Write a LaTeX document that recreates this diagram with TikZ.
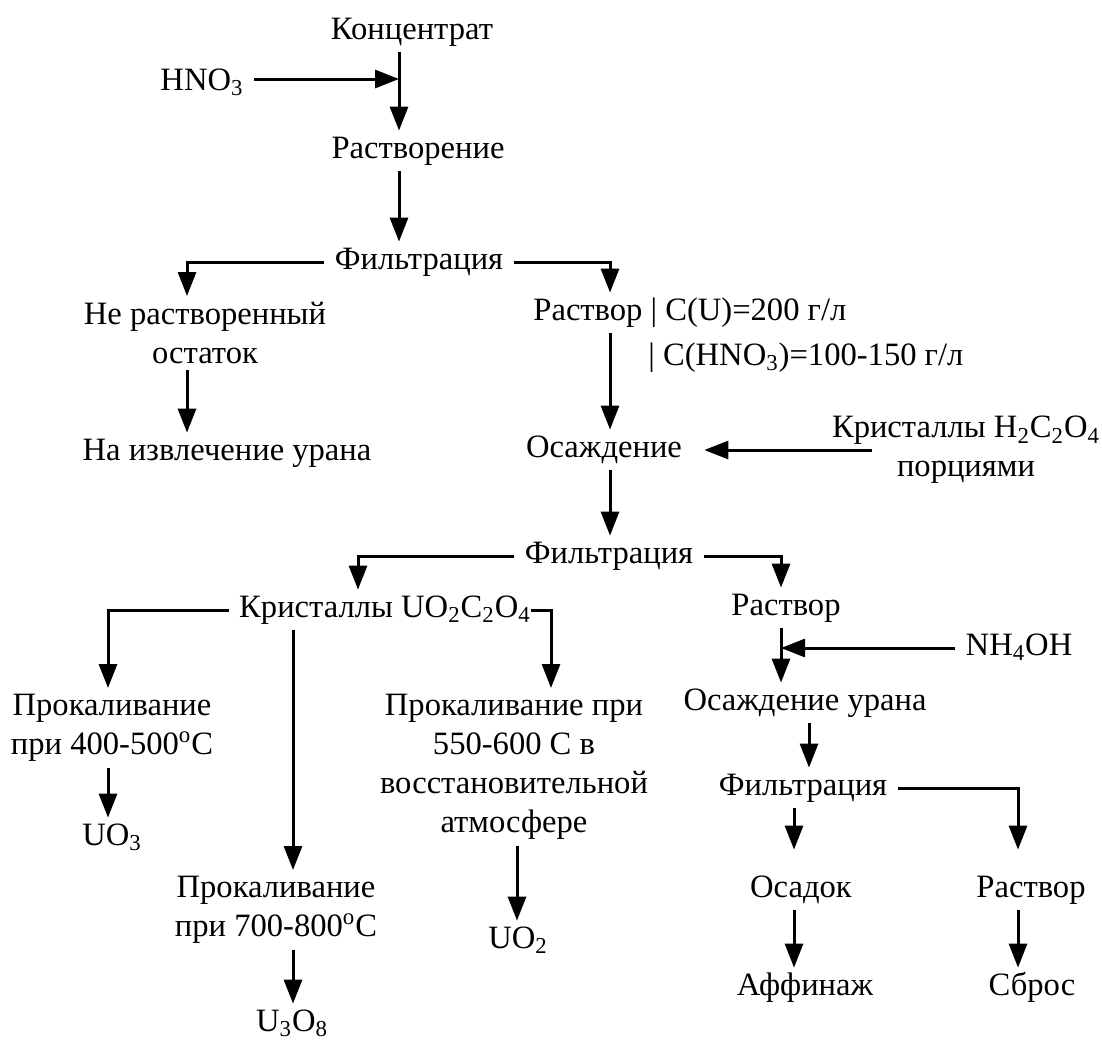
\documentclass[tikz,border=0pt]{standalone}
\usepackage{fontspec}
\setmainfont{Liberation Serif}
\usetikzlibrary{arrows.meta}

\begin{document}
\begin{tikzpicture}[x=0.5pt, y=-0.5pt,
    font=\fontsize{16.3}{19.5}\selectfont,
    lbl/.style={anchor=base, inner ysep=3pt, inner xsep=5pt, text height=10.5pt, text depth=3.5pt},
    lbls/.style={anchor=north, inner ysep=3pt, inner xsep=5pt, align=center},
    arr/.style={-{Triangle[length=12pt, width=9pt]}, line width=1.5pt}
  ]
  \useasboundingbox (0,0) rectangle (1102,1045);

  % upper part
  \node[lbl] (konc) at (412,39) {Концентрат};
  \node[lbl] (hno) at (202,90) {HNO\textsubscript{3}};
  \node[lbl] (rastv) at (418,158) {Растворение};
  \node[lbl] (filt1) at (419,269) {Фильтрация};
  \node[lbls] (ostat) at (205,296) {Не растворенный\\остаток};
  \node[lbl] (izvl) at (227,460) {На извлечение урана};
  \node[lbl, anchor=base west] (rasU) at (523,320) {Раствор | C(U)=200 г/л};
  \node[lbl, anchor=base west] (rasN) at (638,365) {| C(HNO\textsubscript{3})=100-150 г/л};
  \node[lbl] (osazh) at (604,457) {Осаждение};
  \node[lbls] (krH) at (966,410) {Кристаллы H\textsubscript{2}C\textsubscript{2}O\textsubscript{4}\\порциями};
  \node[lbl] (filt2) at (609,563) {Фильтрация};

  % lower part
  \node[lbl] (kruo) at (385,617) {Кристаллы UO\textsubscript{2}C\textsubscript{2}O\textsubscript{4}};
  \node[lbl] (rasR) at (786,615) {Раствор};
  \node[lbl] (nh) at (1019,655) {NH\textsubscript{4}OH};
  \node[lbl] (osU) at (805,710) {Осаждение урана};
  \node[lbls] (pr1) at (112,688) {Прокаливание\\при 400-500\textsuperscript{o}C};
  \node[lbls] (pr2) at (276,870) {Прокаливание\\при 700-800\textsuperscript{o}C};
  \node[lbls] (pr3) at (514,688) {Прокаливание при\\550-600 C в\\восстановительной\\атмосфере};
  \node[lbl] (uo3) at (112,845) {UO\textsubscript{3}};
  \node[lbl] (u3o8) at (292,1031) {U\textsubscript{3}O\textsubscript{8}};
  \node[lbl] (uo2) at (518,948) {UO\textsubscript{2}};
  \node[lbl] (filt3) at (803,795) {Фильтрация};
  \node[lbl] (osad) at (801,897) {Осадок};
  \node[lbl] (rasB) at (1031,897) {Раствор};
  \node[lbl] (aff) at (805,995) {Аффинаж};
  \node[lbl] (sbros) at (1032,995) {Сброс};

  \coordinate (v1) at ([xshift=-6.5pt]konc.south);
  \coordinate (v3) at ([xshift=3pt]osazh.north);
  \coordinate (v2) at ([xshift=-2.5pt]rasR.south);
  \coordinate (v5) at ([xshift=8.5pt]pr2.north);
  \coordinate (v4) at ([xshift=-3.5pt]osad.north);

  \draw[arr] (v1) -- (v1 |- rastv.north);
  \draw[arr] ([yshift=2pt]hno.east) -- ([yshift=2pt]hno.east -| v1);
  \draw[arr] (rastv.south -| v1) -- (filt1.north -| v1);
  \draw[arr] (filt1.west) -| ([xshift=-9pt]ostat.north);
  \draw[arr] (filt1.east) -| (rasU.north -| v3);
  \draw[arr] ([xshift=-9pt]ostat.south) -- ([xshift=-20pt]izvl.north);
  \draw[arr] (rasU.south -| v3) -- (v3);
  \draw[arr] ([xshift=25pt]krH.west |- osazh.east) -- ([xshift=6pt]osazh.east);
  \draw[arr] (osazh.south -| v3) -- (filt2.north -| v3);
  \draw[arr] (filt2.west) -| ([xshift=-13.5pt]kruo.north);
  \draw[arr] (filt2.east) -| (v2 |- rasR.north);

  \draw[arr] (kruo.west) -| ([xshift=-2pt]pr1.north);
  \draw[arr] ([xshift=-5pt]kruo.east) -| ([xshift=18.5pt]pr3.north);
  \draw[arr] (kruo.south -| v5) -- (v5);
  \draw[arr] ([xshift=-2pt]pr1.south) -- ([xshift=-2pt]uo3.north);
  \draw[arr] (pr2.south -| v5) -- (u3o8.north -| v5);
  \draw[arr] ([xshift=1.5pt]pr3.south) -- ([xshift=1.5pt]pr3.south |- uo2.north);

  \draw[arr] (v2) -- (v2 |- osU.north);
  \draw[arr] (nh.west) -- (nh.west -| v2);
  \draw[arr] ([xshift=2pt]osU.south) -- ([xshift=2pt]osU.south |- filt3.north);
  \draw[arr] (filt3.south -| v4) -- ([yshift=10pt]v4);
  \draw[arr] (filt3.east) -| ([xshift=-6.5pt, yshift=10pt]rasB.north);
  \draw[arr] (osad.south -| v4) -- (aff.north -| v4);
  \draw[arr] ([xshift=-6.5pt]rasB.south) -- ([xshift=-6.5pt]rasB.south |- sbros.north);
\end{tikzpicture}
\end{document}
